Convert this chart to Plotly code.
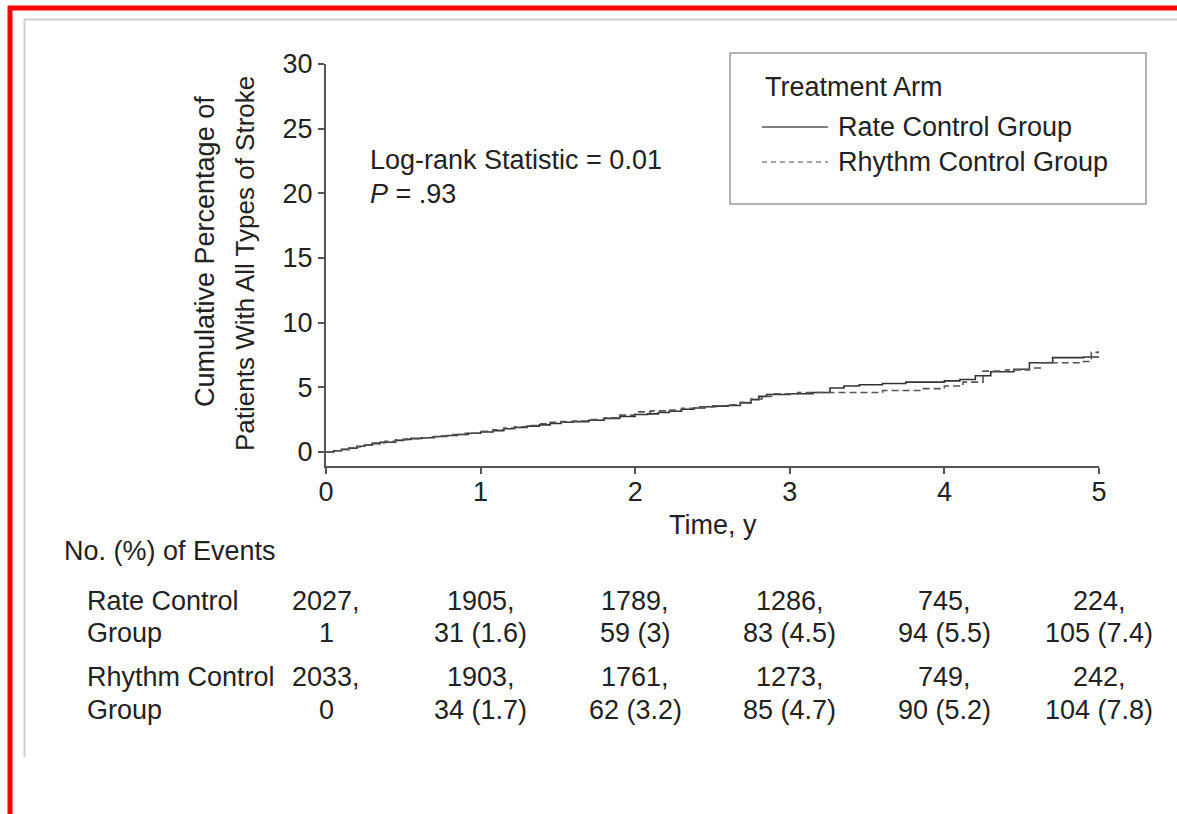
import plotly.graph_objects as go

# ---------------- data ----------------
rate_t = [0, 0.05, 0.1, 0.15, 0.2, 0.25, 0.3, 0.35, 0.45, 0.5, 0.55, 0.62, 0.7, 0.78, 0.85,
          0.92, 1.0, 1.08, 1.15, 1.22, 1.3, 1.38, 1.45, 1.52, 1.6, 1.7, 1.8, 1.9, 2.0,
          2.08, 2.15, 2.22, 2.3, 2.38, 2.45, 2.52, 2.6, 2.68, 2.75, 2.8, 2.85, 3.0, 3.15,
          3.26, 3.35, 3.45, 3.6, 3.75, 4.0, 4.1, 4.2, 4.3, 4.45, 4.55, 4.7, 4.9, 5.0]
rate_y = [0, 0.1, 0.2, 0.3, 0.45, 0.55, 0.65, 0.75, 0.9, 0.98, 1.05, 1.1, 1.2, 1.28, 1.35,
          1.45, 1.55, 1.65, 1.8, 1.9, 2.0, 2.1, 2.2, 2.3, 2.35, 2.45, 2.6, 2.75, 2.9,
          2.95, 3.05, 3.15, 3.3, 3.4, 3.5, 3.55, 3.6, 3.8, 4.05, 4.3, 4.45, 4.5, 4.6,
          4.95, 5.1, 5.2, 5.3, 5.4, 5.5, 5.6, 5.9, 6.2, 6.4, 6.9, 7.3, 7.35, 7.4]

rhythm_t = [0, 0.05, 0.1, 0.15, 0.2, 0.25, 0.3, 0.38, 0.45, 0.52, 0.6, 0.68, 0.75, 0.82,
            0.9, 1.0, 1.08, 1.15, 1.22, 1.3, 1.38, 1.45, 1.52, 1.6, 1.7, 1.8, 1.9, 2.0,
            2.1, 2.2, 2.3, 2.4, 2.5, 2.6, 2.68, 2.75, 2.82, 2.9, 3.05, 3.3, 3.6, 3.85,
            4.0, 4.12, 4.25, 4.4, 4.55, 4.62, 4.9, 4.95, 5.0]
rhythm_y = [0, 0.1, 0.2, 0.3, 0.4, 0.55, 0.7, 0.82, 0.95, 1.02, 1.1, 1.18, 1.25, 1.35,
            1.45, 1.6, 1.72, 1.85, 1.95, 2.05, 2.18, 2.3, 2.35, 2.4, 2.5, 2.65, 2.85, 3.1,
            3.18, 3.25, 3.38, 3.5, 3.58, 3.65, 3.85, 4.1, 4.3, 4.5, 4.6, 4.6, 4.75, 4.9,
            5.1, 5.4, 6.25, 6.35, 6.5, 6.9, 7.0, 7.7, 7.8]

years = [0, 1, 2, 3, 4, 5]
rate_at_risk = ["2027,", "1905,", "1789,", "1286,", "745,", "224,"]
rate_events = ["1", "31 (1.6)", "59 (3)", "83 (4.5)", "94 (5.5)", "105 (7.4)"]
rhythm_at_risk = ["2033,", "1903,", "1761,", "1273,", "749,", "242,"]
rhythm_events = ["0", "34 (1.7)", "62 (3.2)", "85 (4.7)", "90 (5.2)", "104 (7.8)"]

y_ticks = [0, 5, 10, 15, 20, 25, 30]
x_ticks = [0, 1, 2, 3, 4, 5]

# ---------------- layout geometry ----------------
W, H = 1177, 814
L, R, T, B = 326, 1099, 64, 466
FONT = "Liberation Sans, Arial, sans-serif"
TXT = "#222222"
FS = 27


def px(x):
    return (x - L) / (R - L)


def py(y):
    return (B - y) / (B - T)


fig = go.Figure()
fig.add_trace(go.Scatter(x=rate_t, y=rate_y, mode="lines", line_shape="hv",
                         line=dict(color="#333333", width=1.6), name="Rate Control Group",
                         showlegend=False))
fig.add_trace(go.Scatter(x=rhythm_t, y=rhythm_y, mode="lines", line_shape="hv",
                         line=dict(color="#555555", width=1.6, dash="7px,4px"),
                         name="Rhythm Control Group", showlegend=False))

annotations = []


def txt(text, x, y, xanchor="left", size=FS, xref="paper"):
    annotations.append(dict(text=text, x=x, y=y, xref=xref, yref="paper",
                            xanchor=xanchor, yanchor="middle", showarrow=False,
                            font=dict(family=FONT, size=size, color=TXT)))


# y-axis title (two lines)
annotations.append(dict(text="Cumulative Percentage of", x=px(205), y=py(252), xref="paper",
                        yref="paper", textangle=-90, showarrow=False, xanchor="center",
                        yanchor="middle", font=dict(family=FONT, size=27, color=TXT)))
annotations.append(dict(text="Patients With All Types of Stroke", x=px(245), y=py(264),
                        xref="paper", yref="paper", textangle=-90, showarrow=False,
                        xanchor="center", yanchor="middle",
                        font=dict(family=FONT, size=26, color=TXT)))
# x-axis title
txt("Time, y", px(713), py(525), xanchor="center")

# statistic text
txt("Log-rank Statistic = 0.01", px(368), py(160))
txt("<i>P</i> = .93", px(368), py(194))

# legend (drawn manually)
txt("Treatment Arm", px(763), py(87))
txt("Rate Control Group", px(836), py(127))
txt("Rhythm Control Group", px(836), py(162))

# risk table
txt("No. (%) of Events", px(62), py(551))
txt("Rate Control", px(85), py(601))
txt("Group", px(85), py(633))
txt("Rhythm Control", px(85), py(677))
txt("Group", px(85), py(710))
for i, yr in enumerate(years):
    txt(rate_at_risk[i], yr, py(601), xanchor="center", xref="x")
    txt(rate_events[i], yr, py(633), xanchor="center", xref="x")
    txt(rhythm_at_risk[i], yr, py(677), xanchor="center", xref="x")
    txt(rhythm_events[i], yr, py(710), xanchor="center", xref="x")

shapes = [
    # legend box
    dict(type="rect", xref="paper", yref="paper", x0=px(730), x1=px(1146), y0=py(53),
         y1=py(204), line=dict(color="#9a9a9a", width=1.5), fillcolor="rgba(0,0,0,0)"),
    dict(type="line", xref="paper", yref="paper", x0=px(762), x1=px(828), y0=py(127),
         y1=py(127), line=dict(color="#555555", width=1.3)),
    dict(type="line", xref="paper", yref="paper", x0=px(762), x1=px(828), y0=py(162),
         y1=py(162), line=dict(color="#888888", width=1.3, dash="5px,4px")),
    # page frame
    dict(type="line", xref="paper", yref="paper", x0=px(24), x1=px(1180), y0=py(19.5),
         y1=py(19.5), line=dict(color="#cfcfcf", width=2)),
    dict(type="line", xref="paper", yref="paper", x0=px(24.5), x1=px(24.5), y0=py(19),
         y1=py(757), line=dict(color="#cfcfcf", width=2)),
    dict(type="line", xref="paper", yref="paper", x0=px(8), x1=px(1180), y0=py(8),
         y1=py(8), line=dict(color="#ff0000", width=5)),
    dict(type="line", xref="paper", yref="paper", x0=px(10), x1=px(10), y0=py(6),
         y1=py(820), line=dict(color="#ff0000", width=5)),
]

y_lo = -(B - 452) / ((452 - 64) / 30)

fig.update_layout(
    width=W, height=H,
    margin=dict(l=L, r=W - R, t=T, b=H - B, pad=0),
    paper_bgcolor="white", plot_bgcolor="white",
    showlegend=False,
    font=dict(family=FONT, size=FS, color=TXT),
    annotations=annotations,
    shapes=shapes,
    xaxis=dict(range=[0, 5], tickvals=x_ticks, showgrid=False, zeroline=False,
               showline=True, linecolor="#555555", linewidth=2, ticks="outside",
               ticklen=6, tickwidth=1.5, tickcolor="#555555", ticklabelstandoff=-5,
               tickfont=dict(family=FONT, size=FS, color=TXT), fixedrange=True),
    yaxis=dict(range=[y_lo, 30], tickvals=y_ticks, showgrid=False, zeroline=False,
               showline=True, linecolor="#555555", linewidth=2, ticks="outside",
               ticklen=6, tickwidth=1.5, tickcolor="#555555",
               tickfont=dict(family=FONT, size=FS, color=TXT), fixedrange=True),
)

fig.write_html("out.html")
